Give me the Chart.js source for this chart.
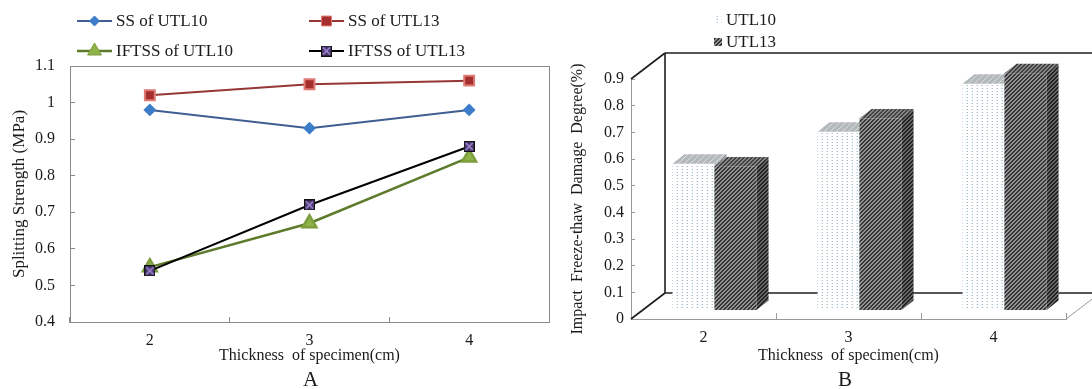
<!DOCTYPE html>
<html>
<head>
<meta charset="utf-8">
<title>Splitting strength and freeze-thaw damage</title>
<script src="https://cdn.jsdelivr.net/npm/chart.js@4.4.1/dist/chart.umd.min.js"></script>
<style>
  html, body { margin: 0; padding: 0; background: #fff; }
  #wrap { position: relative; width: 1092px; height: 389px; overflow: hidden; }
  #boxA { position: absolute; left: 0; top: 0; width: 560px; height: 389px; }
  #boxB { position: absolute; left: 560px; top: 0; width: 532px; height: 389px; }
  .panel-label {
    position: absolute; top: 367px;
    font: 21px 'Liberation Serif', 'Times New Roman', serif; color: #1a1a1a;
  }
</style>
</head>
<body>
<div id="wrap">
  <div id="boxA"><canvas id="chartA" width="560" height="389"></canvas></div>
  <div id="boxB"><canvas id="chartB" width="532" height="389"></canvas></div>
  <div class="panel-label" style="left:303px">A</div>
  <div class="panel-label" style="left:838px">B</div>
</div>
<script>
// Data
const thickness = ['2', '3', '4'];

const ssUTL10 = [0.98, 0.93, 0.98];
const ssUTL13 = [1.02, 1.05, 1.06];
const iftssUTL10 = [0.55, 0.67, 0.85];
const iftssUTL13 = [0.54, 0.72, 0.88];
const strengthTicks = [0.4, 0.5, 0.6, 0.7, 0.8, 0.9, 1.0, 1.1];

const damageUTL10 = [0.55, 0.67, 0.85];
const damageUTL13 = [0.54, 0.72, 0.89];
const damageTicks = [0, 0.1, 0.2, 0.3, 0.4, 0.5, 0.6, 0.7, 0.8, 0.9];

const SERIF = "'Liberation Serif', 'Times New Roman', serif";
Chart.defaults.font.family = SERIF;
Chart.defaults.color = '#1a1a1a';

const fmt = (v) => String(Math.round(v * 10) / 10);

// small canvas tiles used for marker images and bar textures
function makeTile(w, h, paint) {
    const c = document.createElement('canvas');
    c.width = w;
    c.height = h;
    paint(c.getContext('2d'), w, h);
    return c;
}

function stripeTile(dark, light) {
    return makeTile(4, 4, (g) => {
        g.fillStyle = light;
        g.fillRect(0, 0, 4, 4);
        g.fillStyle = dark;
        for (let y = 0; y < 4; y++) {
            for (let x = 0; x < 4; x++) {
                if ((x + y) % 4 < 2) g.fillRect(x, y, 1, 1);
            }
        }
    });
}

const dotTile = makeTile(5, 3, (g) => {
    g.fillStyle = '#ffffff';
    g.fillRect(0, 0, 5, 3);
    g.fillStyle = '#a3bfcb';
    g.fillRect(2, 1, 1, 1);
    g.fillStyle = '#d9e6eb';
    g.fillRect(1, 1, 1, 1);
});

const greyTopTile = makeTile(6, 6, (g) => {
    g.fillStyle = '#b4babc';
    g.fillRect(0, 0, 6, 6);
    g.fillStyle = '#d8dcdd';
    for (let i = 0; i < 6; i++) g.fillRect(i, 5 - i, 1, 1);
});

const crossMarker = makeTile(11, 11, (g) => {
    g.fillStyle = '#4a3a6c';
    g.fillRect(0, 0, 11, 11);
    g.strokeStyle = '#111';
    g.lineWidth = 1;
    g.strokeRect(0.5, 0.5, 10, 10);
    g.strokeStyle = '#a98ce0';
    g.lineWidth = 1.4;
    g.beginPath();
    g.moveTo(2, 2); g.lineTo(9, 9);
    g.moveTo(9, 2); g.lineTo(2, 9);
    g.stroke();
});

// ---------- Panel A: line chart ----------
const boxPlugin = {
    id: 'plotBox',
    afterDraw(chart) {
        const { ctx, chartArea: a } = chart;
        ctx.save();
        ctx.strokeStyle = '#8a8a8a';
        ctx.lineWidth = 1;
        ctx.strokeRect(Math.round(a.left) + 0.5, Math.round(a.top) + 0.5,
            Math.round(a.right - a.left), Math.round(a.bottom - a.top));
        ctx.restore();
    }
};

const legendSlotsA = [[77, 21], [309, 21], [77, 51], [309, 51]];

const lineLegend = {
    id: 'lineLegend',
    afterDraw(chart) {
        const ctx = chart.ctx;
        ctx.save();
        chart.data.datasets.forEach((ds, i) => {
            const [x, y] = legendSlotsA[i];
            ctx.strokeStyle = ds.borderColor;
            ctx.lineWidth = ds.borderWidth;
            ctx.beginPath();
            ctx.moveTo(x, y);
            ctx.lineTo(x + 35, y);
            ctx.stroke();
            ctx.fillStyle = ds.pointBackgroundColor || '#000';
            ctx.strokeStyle = ds.pointBorderColor || ds.borderColor;
            ctx.lineWidth = 1;
            Chart.helpers.drawPoint(ctx, {
                pointStyle: ds.pointStyle,
                radius: ds.pointRadius,
                rotation: 0,
                borderWidth: 1
            }, x + 17.5, y);
            ctx.fillStyle = '#1a1a1a';
            ctx.font = '17px ' + SERIF;
            ctx.textBaseline = 'middle';
            ctx.textAlign = 'left';
            ctx.fillText(ds.label, x + 39, y + 1);
        });
        ctx.restore();
    }
};

new Chart(document.getElementById('chartA'), {
    type: 'line',
    data: {
        labels: thickness,
        datasets: [
            {
                label: 'SS of UTL10',
                data: ssUTL10,
                borderColor: '#3f5f92',
                borderWidth: 2,
                pointStyle: 'rectRot',
                pointRadius: 5,
                pointBackgroundColor: '#3d7cc9',
                pointBorderColor: '#3d7cc9',
                order: 0
            },
            {
                label: 'SS of UTL13',
                data: ssUTL13,
                borderColor: '#953735',
                borderWidth: 2,
                pointStyle: 'rect',
                pointRadius: 7,
                pointBackgroundColor: '#a52f2d',
                pointBorderColor: '#e07a76',
                order: 0
            },
            {
                label: 'IFTSS of UTL10',
                data: iftssUTL10,
                borderColor: '#5e7b2c',
                borderWidth: 2.5,
                pointStyle: 'triangle',
                pointRadius: 8,
                pointBackgroundColor: '#8fb24a',
                pointBorderColor: '#7d9e3c',
                order: 1
            },
            {
                label: 'IFTSS of UTL13',
                data: iftssUTL13,
                borderColor: '#000000',
                borderWidth: 2,
                pointStyle: crossMarker,
                pointRadius: 6,
                pointBackgroundColor: '#4a3a6c',
                pointBorderColor: '#111',
                order: 0
            }
        ]
    },
    options: {
        responsive: false,
        devicePixelRatio: 1,
        animation: false,
        layout: { padding: { top: 66, right: 11, left: 0, bottom: 0 } },
        plugins: { legend: { display: false }, tooltip: { enabled: false } },
        elements: { line: { tension: 0 } },
        scales: {
            x: {
                offset: true,
                afterFit: (s) => { s.height = 67; },
                grid: { offset: true, drawOnChartArea: false, tickLength: -5, color: '#8a8a8a' },
                border: { color: '#8a8a8a' },
                ticks: { padding: 14, font: { size: 16 } },
                title: {
                    display: true,
                    text: 'Thickness  of specimen(cm)',
                    font: { size: 16 },
                    padding: { top: 0, bottom: 24 }
                }
            },
            y: {
                min: 0.4,
                max: 1.1,
                afterFit: (s) => { s.width = 70; },
                afterBuildTicks: (s) => { s.ticks = strengthTicks.map((v) => ({ value: v })); },
                grid: { drawOnChartArea: false, tickLength: -5, color: '#8a8a8a' },
                border: { color: '#8a8a8a' },
                ticks: { padding: 20, font: { size: 16 }, callback: fmt },
                title: {
                    display: true,
                    text: 'Splitting Strength (MPa)',
                    font: { size: 17 },
                    padding: { top: 9, bottom: 0 }
                }
            }
        }
    },
    plugins: [boxPlugin, lineLegend]
});

// ---------- Panel B: pseudo-3D column chart ----------
const WALL_DX = 34, WALL_DY = -26;    // depth of the floor / side wall
const BAR_DX = 12, BAR_DY = -9.5;     // depth of each column
const SHIFT_X = 11, SHIFT_Y = -8.5;   // columns sit in the middle of the floor

const barFaces = [
    { front: dotTile, top: greyTopTile, side: stripeTile('#8d9699', '#b7bec0') },
    { front: stripeTile('#363636', '#929292'), top: stripeTile('#404040', '#858585'), side: stripeTile('#222222', '#666666') }
];

function fillPoly(ctx, pts, fill) {
    ctx.beginPath();
    ctx.moveTo(pts[0][0], pts[0][1]);
    pts.slice(1).forEach((p) => ctx.lineTo(p[0], p[1]));
    ctx.closePath();
    ctx.fillStyle = fill;
    ctx.fill();
}

function line(ctx, x1, y1, x2, y2) {
    ctx.beginPath();
    ctx.moveTo(x1, y1);
    ctx.lineTo(x2, y2);
    ctx.stroke();
}

const wallPlugin = {
    id: 'walls',
    beforeDatasetsDraw(chart) {
        const { ctx, chartArea: a } = chart;
        ctx.save();
        ctx.strokeStyle = '#1e1e1e';
        ctx.lineWidth = 1.6;
        // side wall
        line(ctx, a.left, a.top, a.left + WALL_DX, a.top + WALL_DY);
        line(ctx, a.left + WALL_DX, a.top + WALL_DY, a.left + WALL_DX, a.bottom + WALL_DY);
        line(ctx, a.left, a.bottom, a.left + WALL_DX, a.bottom + WALL_DY);
        // back wall
        line(ctx, a.left + WALL_DX, a.top + WALL_DY, a.right + WALL_DX, a.top + WALL_DY);
        line(ctx, a.left + WALL_DX, a.bottom + WALL_DY, a.right + WALL_DX, a.bottom + WALL_DY);
        // floor, right edge
        ctx.strokeStyle = '#9a9a9a';
        ctx.lineWidth = 1;
        line(ctx, a.right, a.bottom, a.right + WALL_DX, a.bottom + WALL_DY);
        ctx.restore();
    }
};

const bars3d = {
    id: 'bars3d',
    afterDatasetsDraw(chart) {
        const ctx = chart.ctx;
        const pats = barFaces.map((f) => ({
            front: ctx.createPattern(f.front, 'repeat'),
            top: ctx.createPattern(f.top, 'repeat'),
            side: ctx.createPattern(f.side, 'repeat')
        }));
        ctx.save();
        thickness.forEach((_, i) => {
            [0, 1].forEach((d) => {
                const el = chart.getDatasetMeta(d).data[i];
                const half = el.width / 2;
                const x0 = el.x - half + SHIFT_X;
                const x1 = el.x + half + SHIFT_X;
                const yt = el.y + SHIFT_Y;
                const yb = el.base + SHIFT_Y;
                ctx.fillStyle = pats[d].front;
                ctx.fillRect(x0, yt, x1 - x0, yb - yt);
                fillPoly(ctx, [[x0, yt], [x0 + BAR_DX, yt + BAR_DY], [x1 + BAR_DX, yt + BAR_DY], [x1, yt]], pats[d].top);
                fillPoly(ctx, [[x1, yt], [x1 + BAR_DX, yt + BAR_DY], [x1 + BAR_DX, yb + BAR_DY], [x1, yb]], pats[d].side);
            });
        });
        ctx.restore();
    }
};

const legendSlotsB = [[154, 20], [154, 42]];

const barLegend = {
    id: 'barLegend',
    afterDraw(chart) {
        const ctx = chart.ctx;
        ctx.save();
        chart.data.datasets.forEach((ds, i) => {
            const [x, y] = legendSlotsB[i];
            ctx.fillStyle = ctx.createPattern(barFaces[i].front, 'repeat');
            ctx.fillRect(x, y - 4, 8, 8);
            ctx.fillStyle = '#1a1a1a';
            ctx.font = '17px ' + SERIF;
            ctx.textBaseline = 'middle';
            ctx.fillText(ds.label, x + 12, y + 1);
        });
        ctx.restore();
    }
};

new Chart(document.getElementById('chartB'), {
    type: 'bar',
    data: {
        labels: thickness,
        datasets: [
            { label: 'UTL10', data: damageUTL10, backgroundColor: 'rgba(0,0,0,0)', borderWidth: 0 },
            { label: 'UTL13', data: damageUTL13, backgroundColor: 'rgba(0,0,0,0)', borderWidth: 0 }
        ]
    },
    options: {
        responsive: false,
        devicePixelRatio: 1,
        animation: false,
        layout: { padding: { top: 79, right: 26, left: 0, bottom: 0 } },
        plugins: { legend: { display: false }, tooltip: { enabled: false } },
        datasets: { bar: { categoryPercentage: 0.58, barPercentage: 1 } },
        scales: {
            x: {
                afterFit: (s) => { s.height = 70; },
                grid: { offset: true, drawOnChartArea: false, tickLength: -6, color: '#9a9a9a' },
                border: { color: '#9a9a9a' },
                ticks: { padding: 15, font: { size: 16 } },
                title: {
                    display: true,
                    text: 'Thickness  of specimen(cm)',
                    font: { size: 16 },
                    padding: { top: 0, bottom: 24 }
                }
            },
            y: {
                min: 0,
                max: 0.9,
                afterFit: (s) => { s.width = 71; },
                afterBuildTicks: (s) => { s.ticks = damageTicks.map((v) => ({ value: v })); },
                grid: { drawOnChartArea: false, tickLength: -4, color: '#9a9a9a' },
                border: { color: '#9a9a9a' },
                ticks: { padding: 11, font: { size: 16 }, callback: fmt },
                title: {
                    display: true,
                    text: 'Impact  Freeze-thaw  Damage  Degree(%)',
                    font: { size: 16 },
                    padding: { top: 8, bottom: 0 }
                }
            }
        }
    },
    plugins: [wallPlugin, bars3d, barLegend]
});
</script>
</body>
</html>
